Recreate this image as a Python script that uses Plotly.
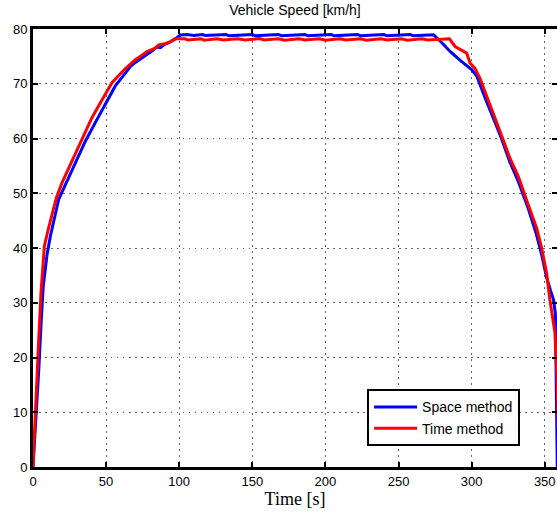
import plotly.graph_objects as go

# Space method (blue)
space_t = [0, 2, 4, 5.5, 7, 9.6, 11.9, 17.6, 22, 26.6, 31, 35.8, 42.6, 49.4, 56.3, 61, 66.7, 70, 74.4,
           78.1, 80, 84.7, 87.2, 90, 93, 96.3, 100.9,
           105, 110, 116, 118, 125, 132, 134, 142, 150, 152, 160, 168, 170, 178, 186, 188, 196,
           204, 206, 214, 222, 224, 232, 240, 242, 250, 258, 260, 268, 274,
           280, 285.3, 292, 300, 303.5, 306, 310, 315, 320, 326, 332, 338.5, 344, 348, 351.3,
           354, 356, 357.3, 357.8, 358.2, 358.6]
space_v = [0, 8, 18, 26, 33, 38.8, 42.2, 48.9, 51.5, 54, 56.8, 59.5, 62.9, 66.2, 69.6, 71.2, 73.2, 73.9, 74.8,
           75.4, 75.7, 76.7, 76.6, 77.2, 77.5, 78.0, 78.9,
           79.0, 78.8, 79.0, 78.8, 78.9, 79.0, 78.75, 78.9, 79.0, 78.75, 78.9, 79.0, 78.75, 78.9, 79.0, 78.75, 78.9,
           79.0, 78.75, 78.9, 79.0, 78.75, 78.9, 79.0, 78.75, 78.9, 79.0, 78.75, 78.9, 78.95,
           77.4, 75.9, 74.3, 72.6, 71.4, 69.8, 66.9, 63.6, 60.3, 55.8, 52.1, 47.4, 42.8, 38.7, 34.6,
           32.2, 30.6, 28.0, 15.0, 3.0, 0]

# Time method (red)
time_t = [0, 1.5, 3.5, 5.5, 7.8, 10.7, 16, 19.8, 26.6, 33.5, 40.3, 46, 54, 62.5, 70, 74, 78, 83.6, 86, 90, 94, 97,
          104, 106, 115, 117, 126, 130, 140, 145, 155, 158, 168, 172, 182, 186, 196, 200, 210, 214,
          224, 228, 238, 242, 252, 256, 266, 270, 279, 284.8,
          288.7, 294.3, 296.6, 298.9, 302.3, 305.7, 309.2, 313.7, 319.4, 326.2, 331.9, 338.7, 344.5,
          347.9, 351.3, 353.5, 357, 358.5, 359.5, 360]
time_v = [0, 10, 21, 32, 40.4, 43.7, 49.2, 51.9, 55.9, 60.1, 63.8, 66.5, 70.2, 72.6, 74.4, 75.1, 75.9, 76.5, 77.1, 77.3, 77.7, 78.2,
          78.2, 78.0, 78.2, 77.95, 78.2, 78.0, 78.2, 78.0, 78.25, 78.0, 78.2, 77.95, 78.2, 78.0, 78.2, 77.95, 78.2, 78.0,
          78.2, 77.95, 78.2, 78.0, 78.2, 77.95, 78.2, 78.0, 78.2, 78.2,
          76.8, 75.9, 75.6, 73.8, 72.8, 71.0, 68.6, 65.5, 61.3, 56.4, 53.1, 47.9, 43.6,
          40.0, 35.4, 30.6, 24.5, 16.0, 5.0, 0]

x_ticks = [0, 50, 100, 150, 200, 250, 300, 350]
y_ticks = [0, 10, 20, 30, 40, 50, 60, 70, 80]

fig = go.Figure()
fig.add_trace(go.Scatter(x=space_t, y=space_v, mode="lines", name="Space method",
                         line=dict(color="#0000ff", width=3)))
fig.add_trace(go.Scatter(x=time_t, y=time_v, mode="lines", name="Time method",
                         line=dict(color="#ff0000", width=3)))

axis_common = dict(showline=True, linecolor="black", linewidth=3, mirror="ticks",
                   ticks="inside", ticklen=5, tickwidth=2, tickcolor="black",
                   showgrid=True, gridcolor="rgba(0,0,0,0.6)", gridwidth=1, griddash="1.5px,4.5px",
                   zeroline=False, automargin=False,
                   tickfont=dict(family="Liberation Sans, Arial", size=13, color="black"))

fig.update_layout(
    width=557, height=518,
    margin=dict(l=33, r=0, t=29, b=51),
    paper_bgcolor="white", plot_bgcolor="white",
    title=dict(text="Vehicle Speed [km/h]", x=0.5, xref="paper", xanchor="center",
               y=0.98, yref="container", yanchor="middle",
               font=dict(family="Liberation Sans, Arial", size=14, color="black")),
    xaxis=dict(range=[0, 358.4], tickvals=x_ticks, **axis_common,
               title=dict(text="Time [s]", standoff=2,
                          font=dict(family="Liberation Serif, DejaVu Serif", size=18, color="black"))),
    yaxis=dict(range=[0, 80], tickvals=y_ticks, **axis_common),
    legend=dict(x=0.9295, y=0.047, xanchor="right", yanchor="bottom",
                bgcolor="white", bordercolor="black", borderwidth=2,
                font=dict(family="Liberation Sans, Arial", size=14, color="black"),
                tracegroupgap=0, itemwidth=43),
    showlegend=True,
)

fig.write_html("out.html", config={"displayModeBar": False},
               post_script="document.body.style.margin='0px';")
